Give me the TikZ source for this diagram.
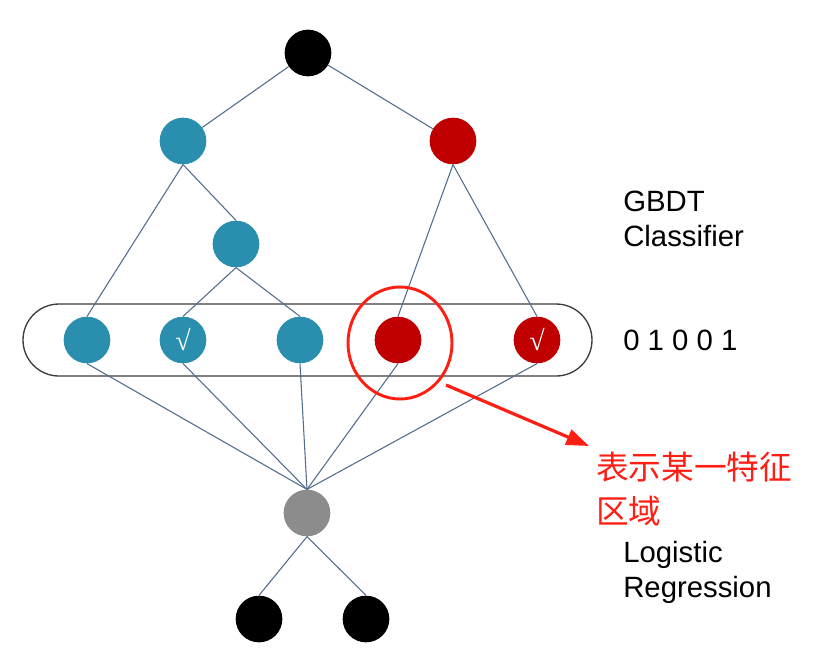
\documentclass[tikz,border=0pt]{standalone}
\usepackage{fontspec}
\setmainfont{Liberation Sans}
\newfontfamily\cjk{Noto Sans CJK SC}
\newfontfamily\tickfont{Liberation Serif}
\usepackage{tikz}
\usetikzlibrary{arrows.meta}

\definecolor{leafblue}{RGB}{42,143,174}
\definecolor{leafred}{RGB}{192,0,0}
\definecolor{lrgray}{RGB}{140,140,140}
\definecolor{edgeblue}{RGB}{82,108,140}
\definecolor{markred}{RGB}{255,30,20}

\tikzset{
  tnode/.style={circle,minimum size=35pt,inner sep=0pt},
  edge/.style={draw=edgeblue,line width=0.8pt},
  lbl/.style={anchor=west,align=left,inner sep=0pt,font=\fontsize{22}{26.25}\selectfont},
  tick/.style={text=white,font=\tickfont\fontsize{21}{21}\selectfont}
}

\begin{document}
\begin{tikzpicture}[x=0.75pt,y=0.75pt,yscale=-1,xscale=1]
\useasboundingbox (0,0) rectangle (829,662);

%Shape: Rounded Rectangle (leaf layer)
\draw [color={rgb, 255:red, 60; green, 60; blue, 60 },line width=1pt,rounded corners=27pt] (23,304) rectangle (592,376);

% Tree nodes
\node [tnode,fill=black] (root) at (308,53) {};
\node [tnode,fill=leafblue] (bl) at (183,141) {};
\node [tnode,fill=leafred] (rd) at (453,141) {};
\node [tnode,fill=leafblue] (bm) at (236,244) {};

% Leaf nodes
\node [tnode,fill=leafblue] (l1) at (87,340) {};
\node [tnode,fill=leafblue,tick] (l2) at (183,340) {√};
\node [tnode,fill=leafblue] (l3) at (300,340) {};
\node [tnode,fill=leafred] (l4) at (398,340) {};
\node [tnode,fill=leafred,tick] (l5) at (537,340) {√};

% Logistic Regression nodes
\node [tnode,fill=lrgray] (lr) at (307,513) {};
\node [tnode,fill=black] (o1) at (259,619) {};
\node [tnode,fill=black] (o2) at (366,619) {};

%Straight Lines
\draw [edge] (root) -- (bl);
\draw [edge] (root) -- (rd);
\draw [edge] (bl.south) -- (l1.north);
\draw [edge] (bl.south) -- (bm.north);
\draw [edge] (bm.south) -- (l2.north);
\draw [edge] (bm.south) -- (l3.north);
\draw [edge] (rd.south) -- (l4.north);
\draw [edge] (rd.south) -- (l5.north);
\foreach \leaf in {l1,l2,l3,l4,l5}
  \draw [edge] (\leaf.south) -- (lr.north);
\draw [edge] (lr.south) -- (o1.north);
\draw [edge] (lr.south) -- (o2.north);

%Shape: Ellipse (marked region)
\draw [color=markred,line width=2.2pt] (400,343) ellipse (52 and 56);

%Straight Lines with arrow
\coordinate (arrS) at (446,385);
\coordinate (arrE) at (589,446);
\draw [color=markred,line width=2.4pt,-{Triangle[length=17pt,width=12pt]}] (arrS) -- (arrE);

% Text Node
\node [lbl] (gbdt) at (623,219) {GBDT\\Classifier};
% Text Node
\node [lbl] (code) at (623,340) {0 1 0 0 1};
% Text Node
\node [lbl,text=markred,font=\cjk\fontsize{24.5}{33}\selectfont] (region) at (596,489) {表示某一特征\\区域};
% Text Node
\node [lbl] (logreg) at (623,572) {Logistic\\Regression};

\end{tikzpicture}
\end{document}
